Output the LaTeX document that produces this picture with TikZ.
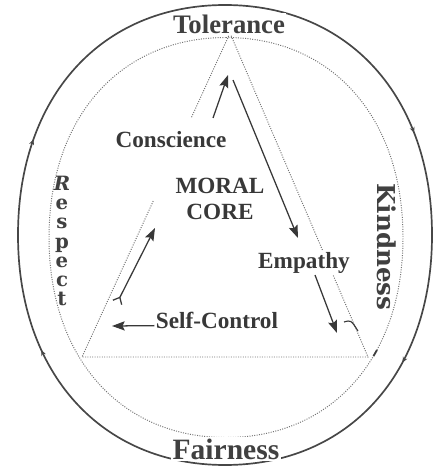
\documentclass[tikz,border=0pt]{standalone}
\usepackage{fontspec}
\setmainfont{Liberation Serif}
\newfontfamily\chunky{DejaVu Serif}
\usetikzlibrary{arrows.meta,decorations.markings}

\begin{document}
\begin{tikzpicture}[x=0.025cm, y=-0.025cm,
    >={Stealth[length=9pt, width=6.5pt, inset=1.5pt]},
    rim/.style={draw=black!72, line width=1.2pt},
    dots/.style={draw=black!55, line width=0.7pt, dash pattern=on 0.7pt off 1pt},
    flow/.style={draw=black!78, line width=0.9pt, ->},
    word/.style={text=black!78, font=\bfseries\fontsize{16.5}{19}\selectfont, fill=white, inner sep=1pt},
    virtue/.style={text=black!75, font=\bfseries\fontsize{20}{24}\selectfont, fill=white, inner sep=1pt},
    upright/.style={text=black!75, inner sep=0pt}]

\useasboundingbox (0,0) rectangle (438,472);

% outer ring, with its small direction marks
\coordinate (oN) at (225,5);
\coordinate (oE) at (432,235);
\coordinate (oS) at (225,465);
\coordinate (oW) at (18,235);
\draw[rim, decoration={markings,
        mark=at position 0.175 with {\arrow{Stealth[length=4pt, width=3.5pt]}},
        mark=at position 0.345 with {\arrow{Stealth[length=4pt, width=3.5pt]}},
        mark=at position 0.665 with {\arrow{Stealth[length=4pt, width=3.5pt]}},
        mark=at position 0.82 with {\arrow{Stealth[length=4pt, width=3.5pt]}}},
      postaction={decorate}]
  (oN) .. controls +(124,0) and +(0,-138) .. (oE)
       .. controls +(0,138) and +(124,0) .. (oS)
       .. controls +(-124,0) and +(0,138) .. (oW)
       .. controls +(0,-138) and +(-124,0) .. (oN);

% inner dotted ring
\coordinate (iN) at (226,37.5);
\coordinate (iE) at (403,237.5);
\coordinate (iS) at (226,437.5);
\coordinate (iW) at (49,237.5);
\draw[dots, decoration={markings,
        mark=at position 0.35 with {\draw[solid, draw=black!75, line width=1.3pt] (-2.5pt,0) -- (2.5pt,0);}},
      postaction={decorate}]
  (iN) .. controls +(106,0) and +(0,-120) .. (iE)
       .. controls +(0,120) and +(106,0) .. (iS)
       .. controls +(-106,0) and +(0,120) .. (iW)
       .. controls +(0,-120) and +(-106,0) .. (iN);

% dotted triangle
\coordinate (top) at (230,33);
\coordinate (left) at (82,357);
\coordinate (right) at (368,357);
\path (top) -- (left) coordinate[pos=0.26] (gapA) coordinate[pos=0.515] (gapB);
\draw[dots] (gapA) -- (top) -- (right) -- (left) -- (gapB);

\node[virtue, font=\bfseries\fontsize{19}{23}\selectfont] (tol) at (229,24) {Tolerance};
\node[virtue, font=\bfseries\fontsize{21}{25}\selectfont] (fair) at (226,449) {Fairness};
\node[upright, align=center, font=\chunky\bfseries\fontsize{14}{13.6}\selectfont] (resp) at (62,241)
  {\textit{R}\\e\\s\\p\\e\\c\\t};
\node[upright, rotate=-90, font=\chunky\bfseries\fontsize{17.5}{20}\selectfont] (kind) at (387,247) {Kindness};

\node[word] (consc) at (171,140) {Conscience};
\node[word, align=center] (core) at (220,199) {MORAL\\CORE};
\node[word] (emp) at (304,263) {Empathy};
\node[word] (selfctl) at (217,320) {Self-Control};

\coordinate (up1) at (213,118);
\coordinate (up2) at (228,75);
\coordinate (dn1) at (233,80);
\coordinate (dn2) at (298,238);
\coordinate (em1) at (315,275);
\coordinate (em2) at (337,333);
\coordinate (hk1) at (344,322);
\coordinate (hk2) at (358,331);
\coordinate (sc) at (112,326);
\coordinate (lf1) at (117,303);
\coordinate (lf2) at (155,228);

\draw[flow] (up1) -- (up2);
\draw[flow] (dn1) -- (dn2);
\draw[flow] (em1) -- (em2);
\draw[draw=black!78, line width=0.8pt] (hk1) .. controls (351,320) .. (hk2);
\draw[flow] ([yshift=-4pt]selfctl.west) -- (sc);
\draw[flow, {Straight Barb[reversed, length=4pt, width=7pt]}->] (lf1) -- (lf2);

\end{tikzpicture}
\end{document}
